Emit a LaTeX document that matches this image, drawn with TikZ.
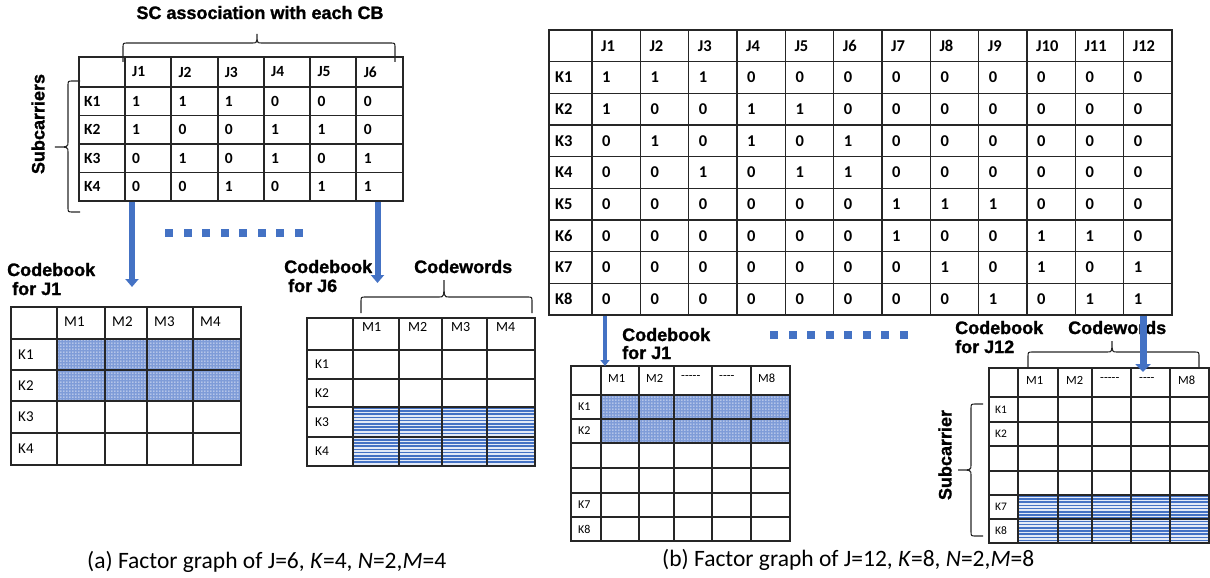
\documentclass[tikz,border=0pt]{standalone}
\usepackage{fontspec}
\setmainfont{Carlito}
\newfontfamily\labelfont{Liberation Sans}[UprightFont={* Bold}, FakeBold=1.2]
\usetikzlibrary{arrows.meta,patterns}

\definecolor{cbblue}{HTML}{4472C4}
\definecolor{dotfill}{HTML}{7F9CD8}
\definecolor{stripegap}{HTML}{E3EAF7}
\definecolor{gridcol}{HTML}{262626}

% white dot grid laid over a blue fill
\pgfdeclarepatternformonly{cbdots}{\pgfqpoint{0pt}{0pt}}{\pgfqpoint{3pt}{3pt}}{\pgfqpoint{3pt}{3pt}}%
  {\pgfpathrectangle{\pgfqpoint{0.5pt}{0.5pt}}{\pgfqpoint{1.3pt}{1.3pt}}\pgfusepath{fill}}

% a hyphen that does not merge into a dash
\newcommand{\hy}{-\kern0pt }

% horizontal curly brace opening downwards: x1, x2, y of ends, y of bar, y of tip, x of tip
\newcommand{\hbrace}[6]{%
  \draw[brace] (#1,#3) -- (#1,{#4+5}) .. controls (#1,#4) .. ({#1+5},#4) -- ({#6-5},#4)
    .. controls (#6,#4) .. (#6,#5) .. controls (#6,#4) .. ({#6+5},#4) -- ({#2-5},#4)
    .. controls (#2,#4) .. (#2,{#4+5}) -- (#2,#3);}
% vertical curly brace opening to the right: y1, y2, x of ends, x of bar, x of tip, y of tip
\newcommand{\vbrace}[6]{%
  \draw[brace] (#3,#1) -- ({#4+5},#1) .. controls (#4,#1) .. (#4,{#1+5}) -- (#4,{#6-5})
    .. controls (#4,#6) .. (#5,#6) .. controls (#4,#6) .. (#4,{#6+5}) -- (#4,{#2-5})
    .. controls (#4,#2) .. ({#4+5},#2) -- (#3,#2);}
% block of horizontal blue stripes: x1, y1, x2, y2
\newcommand{\stripes}[4]{%
  \fill[stripegap] (#1,#2) rectangle (#3,#4);
  \begin{scope}
    \clip (#1,#2) rectangle (#3,#4);
    \foreach \yy in {0,3.2,...,64} \draw[cbblue, line width=1.5pt] (#1,{#2+\yy+0.8}) -- (#3,{#2+\yy+0.8});
  \end{scope}}

\begin{document}
\begin{tikzpicture}[x=1pt,y=-1pt,
  grid/.style={line width=1.3pt, draw=gridcol},
  brace/.style={line width=1.1pt, draw=black!85},
  bcell/.style={anchor=west, inner sep=0pt, font=\fontsize{15.5}{18}\selectfont\bfseries},
  bigcell/.style={anchor=west, inner sep=0pt, font=\fontsize{16.5}{19}\selectfont\bfseries},
  cell/.style={anchor=west, inner sep=0pt, font=\fontsize{#1}{#1}\selectfont},
  cell/.default=15,
  heading/.style={inner sep=0pt, font=\labelfont\fontsize{18}{21}\selectfont},
  caption/.style={anchor=base west, inner sep=0pt, font=\fontsize{23.5}{28}\selectfont},
  dotted cells/.style={fill=dotfill, postaction={pattern=cbdots, pattern color=white}},
  flow/.style={draw=cbblue, line width=#1},
  dot/.style={fill=cbblue}]
\useasboundingbox (0,0) rectangle (1210,578);

%------------------------------------------------------------ left part
\node[heading, anchor=base] (titleA) at (260,19) {SC association with each CB};
\hbrace{123}{395}{62}{43}{34}{257}
\vbrace{81}{212}{80}{68}{55}{147}
\node[heading, rotate=90] (subA) at (38,124) {Subcarriers};

% association table, J=6, K=4
\draw[grid] (79,57) rectangle (403,201);
\foreach \x in {125,171,218,264,310,356} \draw[grid] (\x,57) -- (\x,201);
\foreach \y in {87,115.5,144,172.5} \draw[grid] (79,\y) -- (403,\y);
\foreach \j in {1,...,6} \node[bcell] (sa-h\j) at ({125+46.33*(\j-1)+7},72) {J\j};
\foreach \k in {1,...,4} \node[bcell] (sa-k\k) at (84,{87+28.5*(\k-0.5)}) {K\k};
\foreach \row [count=\r] in {{1,1,1,0,0,0},{1,0,0,1,1,0},{0,1,0,1,0,1},{0,0,1,0,1,1}}
  \foreach \v [count=\c] in \row
    \node[bcell] (sa-\r-\c) at ({125+46.33*(\c-1)+7},{87+28.5*(\r-0.5)}) {\v};

% continuation marks
\foreach \i in {0,...,7} \fill[dot] ({165+18.5*\i},229) rectangle ++(8.3,8.3);

% codebook for J1
\node[heading, anchor=base west] (cbA1a) at (7,276) {Codebook};
\node[heading, anchor=base west] (cbA1b) at (12,295) {for J1};
\path[dotted cells] (57,339) rectangle (241,401);
\draw[grid] (11,307) rectangle (241,465);
\foreach \x in {57,105,147,193} \draw[grid] (\x,307) -- (\x,465);
\foreach \y in {339,370,401,433} \draw[grid] (11,\y) -- (241,\y);
\foreach \x/\t [count=\i] in {57/M1,105/M2,147/M3,193/M4} \node[cell] (ca-h\i) at (\x+7,322) {\t};
\foreach \y/\t [count=\i] in {354.5/K1,385.5/K2,417/K3,449/K4} \node[cell] (ca-k\i) at (18,\y) {\t};

% codebook for J6
\node[heading, anchor=base west] (cbA6a) at (284,273) {Codebook};
\node[heading, anchor=base west] (cbA6b) at (288,292) {for J6};
\node[heading, anchor=base west] (cwA) at (414,273) {Codewords};
\hbrace{361}{532}{313}{297}{280}{444}
\stripes{353}{407}{535}{466}
\draw[grid] (307,318) rectangle (535,466);
\foreach \x in {353,399,442,487} \draw[grid] (\x,318) -- (\x,466);
\foreach \y in {350,379,407,437} \draw[grid] (307,\y) -- (535,\y);
\foreach \x/\t [count=\i] in {353/M1,399/M2,442/M3,487/M4} \node[cell=14] (cf-h\i) at (\x+9,327) {\t};
\foreach \y/\t [count=\i] in {364.5/K1,393/K2,422/K3,451.5/K4} \node[cell=13.5] (cf-k\i) at (315,\y) {\t};

% arrows from the association table to the codebooks
\coordinate (a1s) at (132,201.5);  \coordinate (a1e) at (132,287);
\coordinate (a6s) at (377.5,201.5); \coordinate (a6e) at (377.5,283);
\draw[flow=6pt, -{Triangle[width=13pt,length=8pt]}] (a1s) -- (a1e);
\draw[flow=6pt, -{Triangle[width=13pt,length=8pt]}] (a6s) -- (a6e);

\node[caption] (capA) at (87,568) {(a) Factor graph of J=6, \textit{K}=4, \textit{N}=2,\textit{M}=4};

%------------------------------------------------------------ right part
% association table, J=12, K=8
\draw[grid] (549,30) rectangle (1172,315);
\foreach \j in {0,...,11} \draw[grid] ({592+48.33*\j},30) -- ({592+48.33*\j},315);
\foreach \k in {1,...,8} \draw[grid] (549,{30+31.67*\k}) -- (1172,{30+31.67*\k});
\foreach \j in {1,...,12} \node[bigcell] (sb-h\j) at ({592+48.33*(\j-1)+9},46) {J\j};
\foreach \k in {1,...,8} \node[bigcell] (sb-k\k) at (555,{30+31.67*(\k+0.5)}) {K\k};
\foreach \row [count=\r] in {
    {1,1,1,0,0,0,0,0,0,0,0,0},{1,0,0,1,1,0,0,0,0,0,0,0},
    {0,1,0,1,0,1,0,0,0,0,0,0},{0,0,1,0,1,1,0,0,0,0,0,0},
    {0,0,0,0,0,0,1,1,1,0,0,0},{0,0,0,0,0,0,1,0,0,1,1,0},
    {0,0,0,0,0,0,0,1,0,1,0,1},{0,0,0,0,0,0,0,0,1,0,1,1}}
  \foreach \v [count=\c] in \row
    \node[bigcell] (sb-\r-\c) at ({592+48.33*(\c-1)+10},{30+31.67*(\r+0.5)}) {\v};

% continuation marks
\foreach \i in {0,...,7} \fill[dot] ({770+18.5*\i},331) rectangle ++(8.3,8.3);

% codebook for J1
\node[heading, anchor=base west] (cbB1a) at (622,341) {Codebook};
\node[heading, anchor=base west] (cbB1b) at (622,359) {for J1};
\path[dotted cells] (601,395) rectangle (790,443);
\draw[grid] (571,366) rectangle (790,541);
\foreach \x in {601,639,674,712,751} \draw[grid] (\x,366) -- (\x,541);
\foreach \y in {395,419,443,468,493,517} \draw[grid] (571,\y) -- (790,\y);
\foreach \x/\t [count=\i] in {601/M1,639/M2,674/\hy\hy\hy\hy\hy,712/\hy\hy\hy\hy,751/M8}
  \node[cell=12.5] (cg-h\i) at (\x+7,378) {\t};
\foreach \y/\t [count=\i] in {407/K1,431/K2,505/K7,529/K8} \node[cell=12] (cg-k\i) at (578,\y) {\t};

% codebook for J12
\node[heading, anchor=base west] (cbB12a) at (955,334) {Codebook};
\node[heading, anchor=base west] (cbB12b) at (955,353) {for J12};
\node[heading, anchor=base west] (cwB) at (1068,334) {Codewords};
\hbrace{1028}{1199}{367}{352}{341}{1112}
\vbrace{404}{536}{983}{971}{958}{470}
\node[heading, rotate=90] (subB) at (945,455) {Subcarrier};
\stripes{1018}{495}{1209}{543}
\draw[grid] (989,368) rectangle (1209,543);
\foreach \x in {1018,1058,1092,1131,1170} \draw[grid] (\x,368) -- (\x,543);
\foreach \y in {397,422,446,471,495,519} \draw[grid] (989,\y) -- (1209,\y);
\foreach \x/\t [count=\i] in {1018/M1,1058/M2,1092/\hy\hy\hy\hy\hy,1131/\hy\hy\hy\hy,1170/M8}
  \node[cell=12.5] (cm-h\i) at (\x+8,380) {\t};
\foreach \y/\t [count=\i] in {409.5/K1,434/K2,507/K7,531/K8} \node[cell=11.5] (cm-k\i) at (995,\y) {\t};

% arrows from the association table to the codebooks
\coordinate (b1s) at (605,315.5);  \coordinate (b1e) at (605,366);
\coordinate (b12s) at (1143,315.5); \coordinate (b12e) at (1143,372);
\draw[flow=4pt, -{Triangle[width=9pt,length=6pt]}] (b1s) -- (b1e);
\draw[flow=7pt, -{Triangle[width=15pt,length=8pt]}] (b12s) -- (b12e);

\node[caption] (capB) at (662,566) {(b) Factor graph of J=12, \textit{K}=8, \textit{N}=2,\textit{M}=8};
\end{tikzpicture}
\end{document}
